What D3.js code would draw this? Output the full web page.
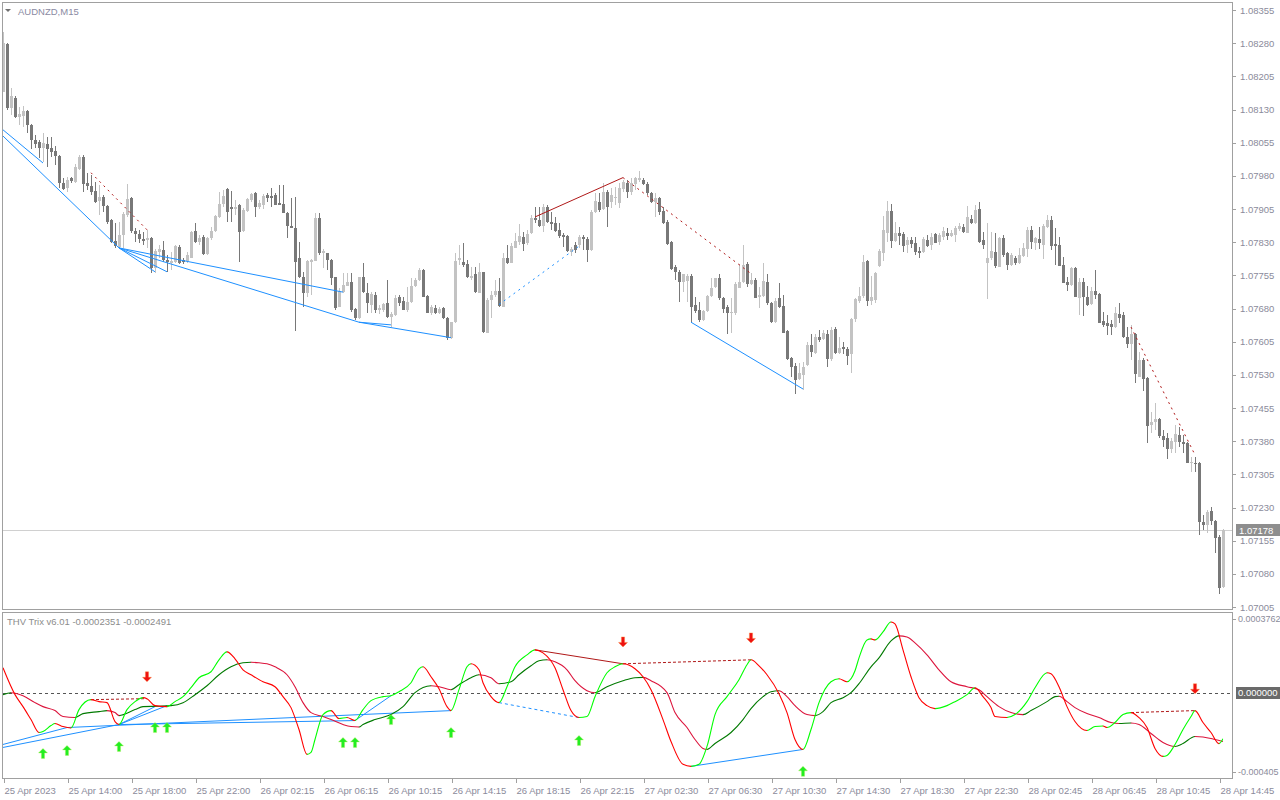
<!DOCTYPE html>
<html><head><meta charset="utf-8">
<script src="https://cdn.jsdelivr.net/npm/d3@7"></script>
<style>
body{margin:0;background:#fff;}
svg{display:block;}
text{font-family:"Liberation Sans",Arial,sans-serif;}
</style>
</head><body>
<svg id="c" width="1280" height="800"></svg>
<script>
// ---------------- DATA ----------------
const symbolTitle = "AUDNZD,M15";
const indicatorTitle = "THV Trix v6.01 -0.0002351 -0.0002491";
const lastPrice = 1.07178;

const open = [
1.08169,1.08279,1.08134,1.08156,1.08113,1.08115,1.08127,1.08096,1.08061,1.08056,
1.08043,1.08052,1.08043,1.08037,1.08025,1.07964,1.07953,1.07974,1.07966,1.07996,
1.08023,1.07964,1.07957,1.07946,1.07924,1.07932,1.07912,1.07881,1.07833,1.07819,
1.07847,1.07892,1.07930,1.07856,1.07849,1.07838,1.07835,1.07840,1.07772,1.07808,
1.07813,1.07790,1.07783,1.07785,1.07819,1.07790,1.07788,1.07795,1.07856,1.07830,
1.07842,1.07804,1.07840,1.07856,1.07887,1.07917,1.07951,1.07910,1.07905,1.07915,
1.07856,1.07901,1.07926,1.07941,1.07910,1.07915,1.07937,1.07934,1.07937,1.07919,
1.07917,1.07896,1.07867,1.07863,1.07795,1.07752,1.07715,1.07785,1.07788,1.07885,
1.07806,1.07806,1.07790,1.07752,1.07684,1.07717,1.07731,1.07740,1.07679,1.07659,
1.07752,1.07715,1.07689,1.07711,1.07677,1.07677,1.07693,1.07661,1.07666,1.07706,
1.07698,1.07677,1.07695,1.07731,1.07745,1.07766,1.07708,1.07670,1.07682,1.07670,
1.07682,1.07659,1.07614,1.07649,1.07790,1.07785,1.07781,1.07748,1.07757,1.07715,
1.07763,1.07625,1.07700,1.07711,1.07720,1.07684,1.07795,1.07783,1.07817,1.07830,
1.07842,1.07828,1.07851,1.07885,1.07879,1.07867,1.07910,1.07876,1.07874,1.07858,
1.07847,1.07844,1.07808,1.07824,1.07824,1.07842,1.07838,1.07813,1.07898,1.07921,
1.07905,1.07943,1.07921,1.07932,1.07919,1.07951,1.07964,1.07943,1.07962,1.07971,
1.07971,1.07962,1.07941,1.07921,1.07930,1.07901,1.07876,1.07830,1.07774,1.07763,
1.07740,1.07743,1.07754,1.07689,1.07677,1.07654,1.07675,1.07708,1.07729,1.07748,
1.07704,1.07684,1.07670,1.07670,1.07727,1.07740,1.07781,1.07736,1.07745,1.07706,
1.07708,1.07740,1.07693,1.07649,1.07704,1.07686,1.07630,1.07569,1.07550,1.07521,
1.07530,1.07553,1.07598,1.07580,1.07616,1.07611,1.07623,1.07566,1.07634,1.07580,
1.07593,1.07589,1.07576,1.07656,1.07698,1.07708,1.07788,1.07698,1.07700,1.07777,
1.07806,1.07851,1.07901,1.07833,1.07851,1.07849,1.07824,1.07835,1.07828,1.07811,
1.07808,1.07835,1.07824,1.07849,1.07830,1.07842,1.07851,1.07844,1.07847,1.07860,
1.07865,1.07851,1.07883,1.07874,1.07905,1.07835,1.07783,1.07795,1.07808,1.07774,
1.07840,1.07806,1.07779,1.07795,1.07783,1.07799,1.07815,1.07858,1.07828,1.07838,
1.07824,1.07865,1.07881,1.07826,1.07824,1.07779,1.07740,1.07734,1.07772,1.07704,
1.07740,1.07706,1.07691,1.07720,1.07713,1.07652,1.07647,1.07645,1.07638,1.07668,
1.07666,1.07616,1.07600,1.07623,1.07525,1.07564,1.07523,1.07417,1.07423,1.07430,
1.07392,1.07387,1.07363,1.07378,1.07394,1.07378,1.07376,1.07331,1.07331,1.07331,
1.07198,1.07191,1.07222,1.07200,1.07164,1.07051];

const high = [
1.08305,1.08281,1.08179,1.08160,1.08136,1.08138,1.08129,1.08098,1.08073,1.08061,
1.08077,1.08068,1.08068,1.08047,1.08028,1.07976,1.07978,1.07978,1.08007,1.08028,
1.08028,1.07987,1.07983,1.07966,1.07960,1.07937,1.07915,1.07883,1.07874,1.07876,
1.07898,1.07962,1.07932,1.07863,1.07858,1.07853,1.07858,1.07842,1.07815,1.07824,
1.07833,1.07802,1.07808,1.07824,1.07824,1.07795,1.07808,1.07856,1.07874,1.07847,
1.07847,1.07842,1.07865,1.07892,1.07943,1.07948,1.07953,1.07946,1.07926,1.07917,
1.07908,1.07930,1.07941,1.07943,1.07926,1.07939,1.07941,1.07953,1.07941,1.07960,
1.07960,1.07898,1.07930,1.07932,1.07830,1.07763,1.07790,1.07792,1.07896,1.07896,
1.07815,1.07806,1.07792,1.07752,1.07727,1.07761,1.07761,1.07761,1.07682,1.07752,
1.07783,1.07738,1.07717,1.07717,1.07689,1.07693,1.07745,1.07672,1.07711,1.07711,
1.07706,1.07729,1.07749,1.07749,1.07772,1.07770,1.07711,1.07689,1.07689,1.07684,
1.07684,1.07661,1.07649,1.07806,1.07824,1.07828,1.07790,1.07774,1.07774,1.07783,
1.07763,1.07704,1.07720,1.07745,1.07748,1.07806,1.07824,1.07828,1.07851,1.07870,
1.07853,1.07858,1.07892,1.07910,1.07910,1.07917,1.07915,1.07898,1.07887,1.07874,
1.07851,1.07847,1.07819,1.07830,1.07847,1.07847,1.07842,1.07903,1.07941,1.07941,
1.07964,1.07948,1.07953,1.07955,1.07964,1.07971,1.07971,1.07976,1.07978,1.07992,
1.07976,1.07966,1.07943,1.07941,1.07932,1.07910,1.07881,1.07833,1.07779,1.07768,
1.07759,1.07757,1.07757,1.07706,1.07695,1.07677,1.07711,1.07749,1.07749,1.07757,
1.07706,1.07689,1.07704,1.07740,1.07781,1.07824,1.07785,1.07761,1.07750,1.07729,
1.07783,1.07759,1.07695,1.07704,1.07738,1.07711,1.07632,1.07571,1.07557,1.07557,
1.07559,1.07604,1.07623,1.07623,1.07632,1.07632,1.07632,1.07638,1.07638,1.07616,
1.07604,1.07593,1.07659,1.07704,1.07729,1.07802,1.07790,1.07754,1.07763,1.07815,
1.07889,1.07924,1.07917,1.07876,1.07865,1.07853,1.07842,1.07842,1.07842,1.07819,
1.07842,1.07847,1.07851,1.07851,1.07851,1.07865,1.07863,1.07858,1.07867,1.07874,
1.07870,1.07912,1.07892,1.07915,1.07921,1.07853,1.07874,1.07853,1.07851,1.07842,
1.07847,1.07808,1.07806,1.07799,1.07817,1.07828,1.07865,1.07867,1.07842,1.07865,
1.07870,1.07892,1.07889,1.07863,1.07842,1.07797,1.07752,1.07774,1.07774,1.07750,
1.07750,1.07731,1.07729,1.07766,1.07715,1.07672,1.07666,1.07654,1.07684,1.07693,
1.07672,1.07638,1.07643,1.07625,1.07582,1.07568,1.07525,1.07446,1.07467,1.07433,
1.07406,1.07399,1.07387,1.07417,1.07412,1.07394,1.07378,1.07344,1.07344,1.07333,
1.07214,1.07225,1.07231,1.07202,1.07168,1.07182];

const low = [
1.08169,1.08129,1.08118,1.08111,1.08096,1.08091,1.08077,1.08041,1.08043,1.08021,
1.08011,1.08000,1.08023,1.08005,1.07953,1.07948,1.07943,1.07964,1.07964,1.07994,
1.07943,1.07948,1.07937,1.07919,1.07892,1.07898,1.07872,1.07828,1.07817,1.07817,
1.07817,1.07887,1.07851,1.07830,1.07828,1.07824,1.07817,1.07761,1.07761,1.07795,
1.07785,1.07763,1.07766,1.07783,1.07781,1.07781,1.07783,1.07795,1.07828,1.07824,
1.07802,1.07802,1.07835,1.07853,1.07885,1.07910,1.07876,1.07876,1.07892,1.07785,
1.07853,1.07898,1.07921,1.07887,1.07905,1.07905,1.07921,1.07910,1.07915,1.07915,
1.07896,1.07840,1.07863,1.07630,1.07750,1.07684,1.07706,1.07711,1.07788,1.07802,
1.07772,1.07768,1.07734,1.07677,1.07684,1.07715,1.07731,1.07672,1.07654,1.07656,
1.07715,1.07670,1.07670,1.07670,1.07668,1.07672,1.07659,1.07638,1.07663,1.07686,
1.07677,1.07672,1.07693,1.07729,1.07743,1.07706,1.07670,1.07666,1.07668,1.07668,
1.07656,1.07609,1.07611,1.07647,1.07779,1.07774,1.07750,1.07745,1.07715,1.07715,
1.07625,1.07625,1.07659,1.07706,1.07684,1.07684,1.07781,1.07783,1.07817,1.07824,
1.07811,1.07824,1.07849,1.07874,1.07865,1.07853,1.07874,1.07858,1.07853,1.07840,
1.07819,1.07808,1.07799,1.07806,1.07817,1.07813,1.07785,1.07811,1.07896,1.07898,
1.07903,1.07865,1.07908,1.07915,1.07908,1.07943,1.07930,1.07937,1.07948,1.07966,
1.07960,1.07937,1.07919,1.07887,1.07892,1.07870,1.07824,1.07768,1.07745,1.07695,
1.07717,1.07695,1.07649,1.07670,1.07649,1.07652,1.07672,1.07706,1.07727,1.07700,
1.07670,1.07623,1.07625,1.07666,1.07727,1.07738,1.07729,1.07734,1.07704,1.07682,
1.07706,1.07689,1.07647,1.07647,1.07682,1.07625,1.07564,1.07525,1.07487,1.07519,
1.07496,1.07550,1.07571,1.07576,1.07604,1.07609,1.07548,1.07562,1.07576,1.07576,
1.07576,1.07553,1.07534,1.07649,1.07693,1.07704,1.07686,1.07689,1.07693,1.07774,
1.07788,1.07830,1.07817,1.07830,1.07824,1.07808,1.07806,1.07817,1.07802,1.07795,
1.07806,1.07819,1.07813,1.07828,1.07824,1.07835,1.07835,1.07842,1.07830,1.07856,
1.07851,1.07851,1.07872,1.07870,1.07828,1.07815,1.07702,1.07790,1.07772,1.07774,
1.07797,1.07768,1.07777,1.07779,1.07781,1.07797,1.07797,1.07815,1.07813,1.07815,
1.07792,1.07863,1.07813,1.07779,1.07777,1.07738,1.07720,1.07731,1.07706,1.07666,
1.07663,1.07686,1.07689,1.07702,1.07647,1.07638,1.07620,1.07620,1.07636,1.07647,
1.07614,1.07591,1.07564,1.07512,1.07525,1.07494,1.07376,1.07399,1.07406,1.07387,
1.07367,1.07340,1.07354,1.07354,1.07367,1.07354,1.07331,1.07311,1.07311,1.07168,
1.07180,1.07173,1.07191,1.07127,1.07035,1.07049];

const close = [
1.08281,1.08134,1.08160,1.08113,1.08120,1.08127,1.08096,1.08061,1.08052,1.08043,
1.08054,1.08041,1.08034,1.08025,1.07964,1.07951,1.07971,1.07969,1.08000,1.08023,
1.07962,1.07957,1.07943,1.07921,1.07932,1.07912,1.07876,1.07830,1.07821,1.07847,
1.07894,1.07928,1.07856,1.07849,1.07838,1.07833,1.07840,1.07772,1.07811,1.07815,
1.07790,1.07785,1.07788,1.07821,1.07783,1.07785,1.07802,1.07853,1.07830,1.07840,
1.07804,1.07840,1.07856,1.07889,1.07917,1.07934,1.07898,1.07905,1.07910,1.07853,
1.07903,1.07928,1.07939,1.07910,1.07919,1.07934,1.07930,1.07930,1.07915,1.07915,
1.07896,1.07867,1.07863,1.07785,1.07752,1.07715,1.07788,1.07790,1.07885,1.07806,
1.07811,1.07790,1.07750,1.07682,1.07720,1.07734,1.07740,1.07677,1.07659,1.07752,
1.07717,1.07693,1.07713,1.07677,1.07682,1.07691,1.07661,1.07668,1.07704,1.07693,
1.07677,1.07695,1.07731,1.07745,1.07766,1.07706,1.07670,1.07684,1.07670,1.07679,
1.07659,1.07614,1.07649,1.07788,1.07795,1.07779,1.07752,1.07754,1.07717,1.07763,
1.07627,1.07700,1.07711,1.07720,1.07686,1.07795,1.07783,1.07821,1.07833,1.07844,
1.07826,1.07849,1.07885,1.07879,1.07867,1.07910,1.07876,1.07870,1.07856,1.07844,
1.07842,1.07811,1.07815,1.07813,1.07842,1.07838,1.07813,1.07898,1.07924,1.07903,
1.07943,1.07910,1.07937,1.07933,1.07953,1.07966,1.07943,1.07964,1.07974,1.07976,
1.07962,1.07941,1.07921,1.07930,1.07898,1.07874,1.07826,1.07770,1.07763,1.07740,
1.07757,1.07754,1.07684,1.07675,1.07654,1.07675,1.07708,1.07727,1.07748,1.07704,
1.07679,1.07670,1.07672,1.07736,1.07740,1.07779,1.07736,1.07745,1.07704,1.07711,
1.07743,1.07693,1.07649,1.07698,1.07684,1.07625,1.07566,1.07548,1.07519,1.07534,
1.07548,1.07598,1.07582,1.07616,1.07609,1.07625,1.07566,1.07632,1.07580,1.07591,
1.07589,1.07573,1.07656,1.07702,1.07708,1.07785,1.07698,1.07706,1.07761,1.07811,
1.07858,1.07901,1.07833,1.07851,1.07844,1.07821,1.07835,1.07826,1.07808,1.07806,
1.07838,1.07821,1.07842,1.07828,1.07847,1.07856,1.07844,1.07851,1.07863,1.07867,
1.07853,1.07887,1.07874,1.07903,1.07830,1.07824,1.07795,1.07811,1.07777,1.07840,
1.07802,1.07779,1.07802,1.07783,1.07802,1.07817,1.07858,1.07830,1.07840,1.07828,
1.07867,1.07881,1.07821,1.07821,1.07777,1.07738,1.07734,1.07772,1.07706,1.07740,
1.07706,1.07689,1.07720,1.07711,1.07647,1.07643,1.07640,1.07638,1.07670,1.07659,
1.07616,1.07600,1.07623,1.07532,1.07564,1.07521,1.07414,1.07423,1.07430,1.07392,
1.07383,1.07363,1.07381,1.07396,1.07378,1.07374,1.07331,1.07333,1.07329,1.07198,
1.07191,1.07220,1.07200,1.07162,1.07049,1.07178];

const priceTicks = [1.07005,1.07080,1.07155,1.07230,1.07305,1.07380,1.07455,1.07530,1.07605,
  1.07680,1.07755,1.07830,1.07905,1.07980,1.08055,1.08130,1.08205,1.08280,1.08355];

const timeTickBars = [0,16,32,48,64,80,96,112,128,144,160,176,192,208,224,240,256,272,288,304];
const timeTickLabels = ["25 Apr 2023","25 Apr 14:00","25 Apr 18:00","25 Apr 22:00","26 Apr 02:15",
  "26 Apr 06:15","26 Apr 10:15","26 Apr 14:15","26 Apr 18:15","26 Apr 22:15","27 Apr 02:30",
  "27 Apr 06:30","27 Apr 10:30","27 Apr 14:30","27 Apr 18:30","27 Apr 22:30","28 Apr 02:45",
  "28 Apr 06:45","28 Apr 10:45","28 Apr 14:45"];

// divergence lines on price chart: [barFrom, priceFrom, barTo, priceTo]
const priceBlueSolid = [
  [0,1.08084,10,1.08009],[0,1.08070,29,1.07817],[29,1.07817,38,1.07763],[29,1.07817,41,1.07763],
  [29,1.07817,85,1.07717],[29,1.07817,89,1.07649],[89,1.07649,97,1.07643],[89,1.07649,112,1.07614],
  [172,1.07649,200,1.07498]];
const priceBlueDash = [[124,1.07689,144,1.07821]];
const priceRedSolid = [[133,1.07887,155,1.07976]];
const priceRedDash = [[22,1.07987,36,1.07858],[155,1.07976,187,1.07759],[282,1.07638,298,1.07349]];

// THV Trix fast line (sampled bars, values)
const trixBars = [0,3,5,7,9,10,12,13,15,17,19,22,24,26,28,29,31,33,35,36,38,41,43,45,47,49,52,54,56,58,
  60,62,65,68,70,72,74,76,77,78,80,82,84,86,88,90,92,95,97,99,102,104,105,107,109,111,112,114,116,117,
  119,120,122,124,126,128,131,133,135,138,140,142,144,146,148,151,153,155,158,160,162,165,167,170,172,
  174,176,178,181,184,186,187,189,191,194,196,198,200,202,204,207,209,211,213,214,216,217,218,220,222,
  223,225,227,229,231,233,236,238,241,243,245,247,248,251,253,256,258,261,262,264,266,268,271,273,275,
  276,278,280,282,284,286,288,290,291,293,295,297,298,300,302,304,305];
const trixValues = [1.271e-4,-0.10e-4,-0.712e-4,-1.373e-4,-2.034e-4,-1.983e-4,-1.678e-4,-1.576e-4,-1.73e-4,-1.80e-4,
  -0.864e-4,-0.356e-4,-0.458e-4,-0.508e-4,-1.474e-4,-1.627e-4,-0.864e-4,-0.458e-4,-0.254e-4,-0.305e-4,
  -0.661e-4,-0.712e-4,-0.458e-4,-0.203e-4,0.254e-4,0.763e-4,1.068e-4,1.678e-4,2.084e-4,1.729e-4,
  1.169e-4,0.915e-4,0.559e-4,0.305e-4,-0.203e-4,-0.763e-4,-1.881e-4,-3.152e-4,-3.050e-4,-2.389e-4,
  -1.118e-4,-0.915e-4,-1.322e-4,-1.271e-4,-1.424e-4,-0.864e-4,-0.407e-4,-0.203e-4,-0.153e-4,0.051e-4,
  0.508e-4,1.220e-4,1.322e-4,0.813e-4,0.203e-4,-0.712e-4,-0.915e-4,0.153e-4,1.322e-4,1.474e-4,
  1.169e-4,0.508e-4,-0.203e-4,-0.508e-4,0.305e-4,1.322e-4,1.932e-4,2.186e-4,2.034e-4,1.271e-4,
  0.153e-4,-0.915e-4,-1.271e-4,-1.220e-4,-0.203e-4,1.017e-4,1.322e-4,1.474e-4,1.220e-4,0.813e-4,
  0.153e-4,-1.373e-4,-2.491e-4,-3.660e-4,-3.762e-4,-3.660e-4,-2.745e-4,-1.118e-4,-0.203e-4,0.661e-4,
  1.424e-4,1.678e-4,1.373e-4,0.915e-4,-0.051e-4,-1.017e-4,-2.389e-4,-2.898e-4,-1.881e-4,-0.508e-4,
  0.559e-4,0.712e-4,0.559e-4,1.118e-4,1.779e-4,2.694e-4,2.745e-4,2.694e-4,3.101e-4,3.610e-4,
  3.508e-4,2.186e-4,0.813e-4,-0.254e-4,-0.661e-4,-0.813e-4,-0.661e-4,-0.458e-4,-0.102e-4,0.254e-4,
  -0.203e-4,-0.763e-4,-1.220e-4,-1.271e-4,-1.118e-4,-0.458e-4,0.254e-4,1.017e-4,0.966e-4,0.305e-4,
  -0.712e-4,-1.474e-4,-1.932e-4,-1.729e-4,-1.700e-4,-1.780e-4,-1.525e-4,-1.118e-4,-1.017e-4,-1.271e-4,
  -1.780e-4,-2.847e-4,-3.254e-4,-3.203e-4,-2.644e-4,-1.881e-4,-1.220e-4,-0.915e-4,-1.525e-4,-2.034e-4,
  -2.600e-4,-2.351e-4];

// THV Trix signal line
const signalBars = [0,2,5,8,10,13,15,18,20,24,26,28,29,33,35,39,42,45,48,51,54,57,60,62,64,66,68,71,73,75,
  77,80,82,85,87,89,90,93,97,100,103,107,109,112,114,117,119,122,124,127,129,132,134,136,138,141,143,146,
  148,151,155,158,160,162,166,168,171,173,175,176,178,182,185,187,190,192,194,196,198,201,203,205,207,
  210,212,214,217,219,222,224,226,228,231,234,237,241,244,246,249,252,255,257,261,263,264,266,268,271,
  274,277,279,282,284,287,290,293,295,298,300,303,305];
const signalValues = [-0.102e-4,0,-0.153e-4,-0.508e-4,-0.712e-4,-0.915e-4,-1.220e-4,-1.271e-4,-1.068e-4,-0.966e-4,
  -0.915e-4,-1.017e-4,-1.169e-4,-0.864e-4,-0.712e-4,-0.690e-4,-0.661e-4,-0.508e-4,-0.102e-4,0.356e-4,
  0.915e-4,1.322e-4,1.525e-4,1.550e-4,1.525e-4,1.474e-4,1.322e-4,0.915e-4,0.305e-4,-0.508e-4,
  -1.017e-4,-1.220e-4,-1.373e-4,-1.627e-4,-1.729e-4,-1.750e-4,-1.627e-4,-1.373e-4,-1.118e-4,-0.712e-4,
  0,0.356e-4,0.305e-4,0.153e-4,0.407e-4,0.763e-4,0.915e-4,0.763e-4,0.458e-4,0.559e-4,
  0.915e-4,1.373e-4,1.627e-4,1.678e-4,1.576e-4,1.169e-4,0.610e-4,0.102e-4,0,0.305e-4,
  0.610e-4,0.763e-4,0.780e-4,0.610e-4,0,-1.017e-4,-1.780e-4,-2.389e-4,-2.847e-4,-2.898e-4,
  -2.593e-4,-2.034e-4,-1.373e-4,-0.813e-4,-0.203e-4,0.051e-4,0.102e-4,-0.203e-4,-0.661e-4,-1.118e-4,
  -1.169e-4,-0.966e-4,-0.508e-4,-0.254e-4,0,0.458e-4,1.322e-4,1.779e-4,2.644e-4,2.898e-4,
  2.847e-4,2.542e-4,1.932e-4,1.169e-4,0.559e-4,0.305e-4,0.153e-4,-0.203e-4,-0.712e-4,-1.017e-4,
  -1.118e-4,-0.915e-4,-0.458e-4,-0.203e-4,-0.180e-4,-0.458e-4,-0.763e-4,-1.068e-4,-1.271e-4,-1.525e-4,
  -1.576e-4,-1.550e-4,-1.627e-4,-2.084e-4,-2.542e-4,-2.745e-4,-2.593e-4,-2.237e-4,-2.260e-4,-2.389e-4,
  -2.491e-4];

// indicator divergence lines: [barFrom, valueFrom, barTo, valueTo]
const indBlueSolid = [[0,-2.644e-4,16,-1.780e-4],[0,-2.796e-4,29,-1.627e-4],[16,-1.780e-4,112,-0.915e-4],
  [29,-1.627e-4,38,-0.712e-4],[29,-1.627e-4,41,-0.661e-4],[29,-1.627e-4,88,-1.424e-4],
  [88,-1.424e-4,97,-0.153e-4],[172,-3.762e-4,200,-2.898e-4]];
const indBlueDash = [[124,-0.508e-4,144,-1.271e-4]];
const indRedSolid = [[133,2.186e-4,155,1.474e-4]];
const indRedDash = [[22,-0.356e-4,36,-0.305e-4],[155,1.474e-4,187,1.678e-4],[282,-1.017e-4,298,-0.915e-4]];

// signal arrows [bar, value]
const upArrows = [[10,-3.101e-4],[16,-2.949e-4],[29,-2.745e-4],[38,-1.780e-4],[41,-1.780e-4],[85,-2.542e-4],
  [88,-2.542e-4],[97,-1.373e-4],[112,-2.034e-4],[144,-2.440e-4],[200,-4.016e-4]];
const downArrows = [[36,0.813e-4],[155,2.593e-4],[187,2.796e-4],[298,0.203e-4]];

const indTicks = [0.0003762, -0.000405];
const indTickLabels = ["0.0003762", "-0.000405"];

// ---------------- DRAW ----------------
const svg = d3.select('#c');
const defs = svg.append('defs');
const FRAME = '#a0a0a0', AXIS_TXT = '#8b8b9b';
const BULL = '#c3c3c3', BEAR = '#787878';
const BLUE = '#1e90ff', DRED = '#b01818';

const x = d3.scaleLinear().domain([0, 305]).range([3, 1223]);
const y = d3.scaleLinear().domain([1.07005, 1.08355]).range([607, 10]);
const yI = d3.scaleLinear().domain([-0.000405, 0.0003762]).range([772, 619]);

defs.append('clipPath').attr('id','mainClip').append('rect').attr('x',3).attr('y',3).attr('width',1229).attr('height',606);
defs.append('clipPath').attr('id','indClip').append('rect').attr('x',3).attr('y',613).attr('width',1229).attr('height',165);

// current price line
svg.append('line').attr('x1',3).attr('x2',1232).attr('y1',Math.round(y(lastPrice))+0.5).attr('y2',Math.round(y(lastPrice))+0.5)
  .attr('stroke','#d0d0d0').attr('stroke-width',1);

// candles
const gC = svg.append('g').attr('clip-path','url(#mainClip)').attr('shape-rendering','crispEdges');
const idx = d3.range(close.length);
gC.selectAll('rect.w').data(idx).join('rect').attr('class','w')
  .attr('x', i => Math.round(x(i)))
  .attr('y', i => Math.round(y(high[i])))
  .attr('width', 1)
  .attr('height', i => Math.max(1, Math.round(y(low[i])) - Math.round(y(high[i]))))
  .attr('fill', i => close[i] >= open[i] ? BULL : BEAR);
gC.selectAll('rect.b').data(idx).join('rect').attr('class','b')
  .attr('x', i => Math.round(x(i)) - 1)
  .attr('y', i => Math.round(y(Math.max(open[i], close[i]))))
  .attr('width', 3)
  .attr('height', i => Math.max(1, Math.round(y(Math.min(open[i], close[i]))) - Math.round(y(Math.max(open[i], close[i])))))
  .attr('fill', i => close[i] >= open[i] ? BULL : BEAR);

// divergence lines on price chart
const gL = svg.append('g').attr('clip-path','url(#mainClip)');
function segs(g, list, ys, color, dash){
  g.selectAll(null).data(list).join('line')
    .attr('x1', d => x(d[0])).attr('y1', d => ys(d[1]))
    .attr('x2', d => x(d[2])).attr('y2', d => ys(d[3]))
    .attr('stroke', color).attr('stroke-width', 1)
    .attr('stroke-dasharray', dash || null).attr('fill','none');
}
segs(gL, priceBlueSolid, y, BLUE);
segs(gL, priceBlueDash, y, BLUE, '2,4');
segs(gL, priceRedSolid, y, DRED);
segs(gL, priceRedDash, y, DRED, '2,4');

// frames
svg.append('rect').attr('x',2.5).attr('y',2.5).attr('width',1230).attr('height',607)
  .attr('fill','none').attr('stroke',FRAME).attr('shape-rendering','crispEdges');
svg.append('rect').attr('x',2.5).attr('y',612.5).attr('width',1230).attr('height',166)
  .attr('fill','none').attr('stroke',FRAME).attr('shape-rendering','crispEdges');

// price axis
const gy = svg.append('g').attr('transform','translate(1233,0)')
  .call(d3.axisRight(y).tickValues(priceTicks).tickSize(3).tickPadding(4).tickFormat(d3.format('.5f')));
gy.select('.domain').remove();
gy.selectAll('line').attr('stroke', FRAME).attr('shape-rendering','crispEdges');
gy.selectAll('text').attr('fill', AXIS_TXT).style('font-size','9.5px').style('font-family','"Liberation Sans",Arial,sans-serif');

// current price label
const ly = y(lastPrice);
svg.append('rect').attr('x',1236).attr('y',Math.round(ly)-6).attr('width',44).attr('height',12).attr('fill','#8e8e8e');
svg.append('text').attr('x',1239).attr('y',ly).attr('dy','0.34em').attr('fill','#fff')
  .style('font-size','9.5px').text(d3.format('.5f')(lastPrice));

// indicator axis
const gyi = svg.append('g').attr('transform','translate(1233,0)')
  .call(d3.axisRight(yI).tickValues(indTicks).tickSize(3).tickPadding(2).tickFormat((d,i)=>indTickLabels[i]));
gyi.select('.domain').remove();
gyi.selectAll('line').attr('stroke', FRAME).attr('shape-rendering','crispEdges');
gyi.selectAll('text').attr('fill', AXIS_TXT).style('font-size','9px').style('font-family','"Liberation Sans",Arial,sans-serif');
svg.append('rect').attr('x',1236).attr('y',Math.round(yI(0))-6).attr('width',44).attr('height',12).attr('fill','#6a6a6a');
svg.append('text').attr('x',1238).attr('y',yI(0)).attr('dy','0.34em').attr('fill','#fff')
  .style('font-size','9.5px').text('0.000000');

// time axis
const gx = svg.append('g').attr('transform','translate(0,779)')
  .call(d3.axisBottom(x).tickValues(timeTickBars).tickSize(4).tickPadding(4).tickFormat((d,i)=>timeTickLabels[i]));
gx.select('.domain').remove();
gx.selectAll('line').attr('stroke', FRAME).attr('shape-rendering','crispEdges').attr('transform','translate(0.5,0)');
gx.selectAll('text').attr('fill', AXIS_TXT).attr('text-anchor','start').attr('x',1)
  .style('font-size','9.5px').style('font-family','"Liberation Sans",Arial,sans-serif');

// indicator panel
const gI = svg.append('g').attr('clip-path','url(#indClip)');
gI.append('line').attr('x1',3).attr('x2',1232).attr('y1',Math.round(yI(0))+0.5).attr('y2',Math.round(yI(0))+0.5)
  .attr('stroke','#555').attr('stroke-dasharray','3,3');

function coloredLine(bars, vals, upC, downC, id){
  const pts = bars.map((b,i)=>[x(b), yI(vals[i])]);
  const d = d3.line().curve(d3.curveMonotoneX)(pts);
  const cpU = defs.append('clipPath').attr('id', id+'U');
  const cpD = defs.append('clipPath').attr('id', id+'D');
  for (let i=0;i<pts.length-1;i++){
    const cp = vals[i+1] > vals[i] ? cpU : cpD;
    cp.append('rect').attr('x', pts[i][0]-0.2).attr('width', pts[i+1][0]-pts[i][0]+0.4).attr('y',600).attr('height',200);
  }
  gI.append('path').attr('d',d).attr('fill','none').attr('stroke',upC).attr('stroke-width',1.1).attr('clip-path',`url(#${id}U)`);
  gI.append('path').attr('d',d).attr('fill','none').attr('stroke',downC).attr('stroke-width',1.1).attr('clip-path',`url(#${id}D)`);
}

segs(gI, indBlueSolid, yI, BLUE);
segs(gI, indBlueDash, yI, BLUE, '3,3');
segs(gI, indRedSolid, yI, DRED);
segs(gI, indRedDash, yI, DRED, '3,2');

coloredLine(signalBars, signalValues, '#007a00', '#dc143c', 'sig');
coloredLine(trixBars, trixValues, '#00ff00', '#ff0000', 'fast');

// arrows
const upPath = 'M0,-5 L4.5,-0.5 L1.6,-0.5 L1.6,5 L-1.6,5 L-1.6,-0.5 L-4.5,-0.5 Z';
const downPath = 'M0,5 L4.5,0.5 L1.6,0.5 L1.6,-5 L-1.6,-5 L-1.6,0.5 L-4.5,0.5 Z';
gI.selectAll(null).data(upArrows).join('path')
  .attr('d', upPath).attr('transform', d => `translate(${x(d[0])},${yI(d[1])})`)
  .attr('fill','#22ee22').attr('stroke','#b8f060').attr('stroke-width',0.4);
gI.selectAll(null).data(downArrows).join('path')
  .attr('d', downPath).attr('transform', d => `translate(${x(d[0])},${yI(d[1])})`)
  .attr('fill','#ee1111').attr('stroke','#ff9040').attr('stroke-width',0.4);

// titles
svg.append('path').attr('d','M5,9 L11,9 L8,12 Z').attr('fill','#707070');
svg.append('text').attr('x',18).attr('y',15).attr('fill','#8a8aa2').style('font-size','9.5px').text(symbolTitle);
svg.append('text').attr('x',7).attr('y',624.5).attr('fill','#8c8c8c').style('font-size','9.5px').text(indicatorTitle);
</script>
</body></html>
